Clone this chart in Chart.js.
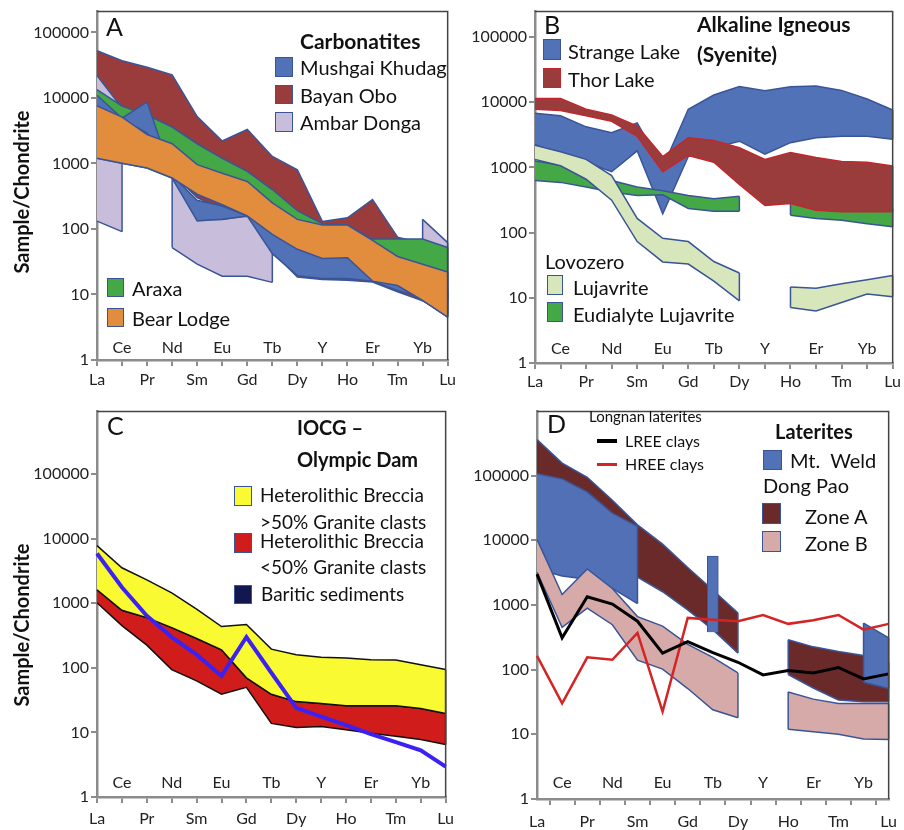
<!DOCTYPE html>
<html>
<head>
<meta charset="utf-8">
<script src="https://cdn.jsdelivr.net/npm/chart.js@4.4.1/dist/chart.umd.min.js"></script>
<style>
  body { margin: 0; background: #fff; width: 904px; height: 830px; position: relative; overflow: hidden; font-family: Lato, sans-serif; color: #111; }
  canvas { position: absolute; }
  .t { position: absolute; white-space: pre; line-height: 1; transform: translateY(-50%); }
  .b { font-weight: bold; }
  .sw { position: absolute; box-sizing: border-box; border: 1.5px solid #3a5597; }
  .ytitle { position: absolute; font-weight: bold; font-size: 20px; white-space: nowrap; transform: translate(-50%, -50%) rotate(-90deg); }
</style>
</head>
<body>
<canvas id="chartA" width="460" height="400" style="left:0;top:0"></canvas>
<canvas id="chartB" width="444" height="400" style="left:460px;top:0"></canvas>
<canvas id="chartC" width="460" height="430" style="left:0;top:400px"></canvas>
<canvas id="chartD" width="444" height="430" style="left:460px;top:400px"></canvas>

<!-- A -->
<div class="ytitle" style="left:21px;top:192px">Sample/Chondrite</div>
<div class="t" style="left:106px;top:26px;font-size:25px">A</div>
<div class="t b" style="left:300px;top:40px;font-size:21px">Carbonatites</div>
<div class="sw" style="left:275px;top:57px;width:18px;height:20px;background:#5272b8"></div>
<div class="t" style="left:300px;top:67px;font-size:20px">Mushgai Khudag</div>
<div class="sw" style="left:275px;top:85px;width:18px;height:19px;background:#9b3c3c"></div>
<div class="t" style="left:300px;top:95px;font-size:20px">Bayan Obo</div>
<div class="sw" style="left:275px;top:112px;width:18px;height:20px;background:#c8bedb"></div>
<div class="t" style="left:300px;top:122px;font-size:20px">Ambar Donga</div>
<div class="sw" style="left:107px;top:278px;width:17px;height:19px;background:#45a846"></div>
<div class="t" style="left:132px;top:288px;font-size:20px">Araxa</div>
<div class="sw" style="left:107px;top:308px;width:17px;height:19px;background:#e28d3e"></div>
<div class="t" style="left:132px;top:318px;font-size:20px">Bear Lodge</div>

<!-- B -->
<div class="t" style="left:544px;top:24px;font-size:25px">B</div>
<div class="t b" style="left:697px;top:23px;font-size:21px">Alkaline Igneous</div>
<div class="t b" style="left:697px;top:53px;font-size:21px">(Syenite)</div>
<div class="sw" style="left:543px;top:39px;width:18px;height:21px;background:#5272b8"></div>
<div class="t" style="left:568px;top:51px;font-size:20px">Strange Lake</div>
<div class="sw" style="left:543px;top:68px;width:18px;height:20px;background:#9b3c3c;border-color:#c0282d"></div>
<div class="t" style="left:568px;top:79px;font-size:20px">Thor Lake</div>
<div class="t" style="left:545px;top:261px;font-size:20px">Lovozero</div>
<div class="sw" style="left:547px;top:275px;width:16px;height:20px;background:#d8e6bc"></div>
<div class="t" style="left:573px;top:287px;font-size:20px">Lujavrite</div>
<div class="sw" style="left:547px;top:302px;width:16px;height:20px;background:#45a846"></div>
<div class="t" style="left:573px;top:314px;font-size:20px">Eudialyte Lujavrite</div>

<!-- C -->
<div class="ytitle" style="left:21px;top:625px">Sample/Chondrite</div>
<div class="t" style="left:107px;top:425px;font-size:25px">C</div>
<div class="t b" style="left:297px;top:427px;font-size:20px">IOCG –</div>
<div class="t b" style="left:297px;top:459px;font-size:20px">Olympic Dam</div>
<div class="sw" style="left:234px;top:486px;width:18px;height:20px;background:#fafa32"></div>
<div class="t" style="left:260px;top:494px;font-size:19px">Heterolithic Breccia</div>
<div class="t" style="left:260px;top:521px;font-size:19px">&gt;50% Granite clasts</div>
<div class="sw" style="left:234px;top:533px;width:18px;height:20px;background:#d11c1c"></div>
<div class="t" style="left:260px;top:540px;font-size:19px">Heterolithic Breccia</div>
<div class="t" style="left:260px;top:566px;font-size:19px">&lt;50% Granite clasts</div>
<div class="sw" style="left:234px;top:585px;width:18px;height:19px;background:#12184f"></div>
<div class="t" style="left:261px;top:593px;font-size:19px">Baritic sediments</div>

<!-- D -->
<div class="t" style="left:547px;top:423px;font-size:25px">D</div>
<div class="t" style="left:589px;top:416px;font-size:15px">Longnan laterites</div>
<div style="position:absolute;left:597px;top:439px;width:20px;height:4px;background:#000"></div>
<div class="t" style="left:625px;top:441px;font-size:16px">LREE clays</div>
<div style="position:absolute;left:597px;top:463px;width:20px;height:3px;background:#d42525"></div>
<div class="t" style="left:625px;top:464px;font-size:16px">HREE clays</div>
<div class="t b" style="left:775px;top:431px;font-size:20px">Laterites</div>
<div class="sw" style="left:763px;top:450px;width:19px;height:20px;background:#5272b8"></div>
<div class="t" style="left:790px;top:460px;font-size:20px">Mt.  Weld</div>
<div class="t" style="left:763px;top:485px;font-size:20px">Dong Pao</div>
<div class="sw" style="left:762px;top:503px;width:19px;height:21px;background:#6b2a2a"></div>
<div class="t" style="left:805px;top:516px;font-size:20px">Zone A</div>
<div class="sw" style="left:762px;top:531px;width:19px;height:21px;background:#d6aaa8"></div>
<div class="t" style="left:805px;top:543px;font-size:20px">Zone B</div>

<script>
(function() {
    "use strict"

    // REE order with Y placed between Dy and Ho
    const elements = ['La', 'Ce', 'Pr', 'Nd', 'Sm', 'Eu', 'Gd', 'Tb', 'Dy', 'Y', 'Ho', 'Er', 'Tm', 'Yb', 'Lu']
    const yTickValues = [1, 10, 100, 1000, 10000, 100000]

    // A - Carbonatites
    const bayanOboHigh = [52500, 37000, 29500, 22500, 5200, 2200, 3300, 1280, 800, 130, 148, 280, 75, 60, 40]
    const bayanOboLow = [1500, 1200, 1000, 700, 300, 200, 160, 45, 18.5, 17, 16.5, 15.5, 11, 8, 5]
    const ambarDongaHigh = [22000, 7000, null, 600, 140, 140, 160, 60, null, null, null, null, null, 140, 62]
    const ambarDongaLow = [132, 91, null, 52, 29, 19, 19, 15.3, null, null, null, null, null, 60, 40]
    const araxaHigh = [13400, 7500, 5500, 3600, 2000, 1200, 760, 400, 190, 120, 115, 70, 70, 70, 52]
    const araxaLow = [1200, 1010, 850, 600, 340, 235, 158, 83, 49, 35.5, 36.5, 16, 13.7, 8.1, 4.5]
    const mushgaiHigh = [11000, 4900, 8700, 650, 275, 224, 158, 100, 60, 45, 45, 30, 20, 15, 12]
    const mushgaiLow = [6000, 4800, 2900, 600, 133, 141, 157, 42, 19.4, 17.5, 17.5, 16, 11.5, 9, 8]
    const bearLodgeHigh = [7600, 5100, 2760, 2000, 960, 710, 530, 250, 140, 115, 115, 67, 38, 29, 22]
    const bearLodgeLow = [1200, 1010, 850, 600, 340, 235, 158, 83, 49, 35.5, 36.5, 16, 13.7, 8.1, 4.5]

    // B - Alkaline igneous
    const strangeLakeHigh = [6800, 6200, 4200, 3400, 4800, 1000, 7800, 12900, 17500, 15000, 17300, 17700, 15200, 11200, 7600]
    const strangeLakeLow = [2250, 1600, 1200, 860, 1800, 195, 1470, 2000, 2530, 1600, 2400, 2850, 3000, 3000, 2700]
    const eudialyteHigh = [1260, 1080, 820, 630, 500, 440, 370, 330, 360, null, 290, 230, 220, 220, 230]
    const eudialyteLow = [630, 590, 500, 420, 370, 380, 235, 213, 213, null, 185, 165, 155, 137, 123]
    const lujavriteHigh = [2180, 1740, 1330, 750, 165, 82, 73, 36, 24, null, 14.7, 14, 16.5, 19, 22]
    const lujavriteLow = [1330, 1060, 660, 315, 73, 35.5, 33, 18, 9, null, 7.1, 6.3, 8.5, 11.4, 10.4]
    const thorLakeHigh = [11400, 11400, 7800, 6400, 4300, 1470, 2850, 2600, 2000, 1330, 1700, 1420, 1230, 1200, 1050]
    const thorLakeLow = [7800, 7500, 6200, 5100, 3000, 860, 1530, 1200, 550, 260, 280, 220, 210, 210, 210]

    // C - IOCG Olympic Dam
    const brecciaHighTop = [7800, 3550, 2300, 1450, 810, 436, 470, 195, 160, 146, 142, 134, 132, 112, 94]
    const brecciaHighBottom = [1620, 780, 600, 420, 285, 190, 70, 39, 30, 28, 26, 26, 26, 23.4, 19.6]
    const brecciaLowTop = [1620, 780, 600, 420, 285, 190, 70, 39, 30, 28, 26, 26, 26, 23.4, 19.6]
    const brecciaLowBottom = [1020, 450, 225, 94, 63, 39, 50, 13.8, 11.9, 12.3, 11, 9.7, 8.7, 7.8, 6.5]
    const bariticSediments = [5900, 1770, 640, 300, 160, 75, 300, 84, 24, 17.5, 13, 9.4, 7.1, 5.3, 2.95]

    // D - Laterites
    const zoneAHigh = [360000, 156000, 94000, 41500, 17300, 8700, 3800, 1700, 750, null, 290, 225, 190, 165, 130]
    const zoneALow = [20000, 15000, 10000, 5000, 2700, 1600, 840, 415, 180, null, 84, 52, 34, 32, 32]
    const mtWeldHigh = [107000, 89000, 56000, 26300, 16400, null, null, null, null, null, null, null, null, 525, 310]
    const mtWeldLow = [3600, 2800, 2500, 1800, 1050, null, null, null, null, null, null, null, null, 64, 51]
    const mtWeldBar = [null, null, null, null, null, null, null, [380, 5700], null, null, null, null, null, null, null]
    const zoneBHigh = [10300, 1450, 3600, 1800, 660, 470, 245, 155, 89, null, 45, 35, 30, 30, 30]
    const zoneBLow = [3200, 450, 890, 495, 140, 102, 51, 24, 18, null, 12, 11, 10, 8.5, 8.3]
    const lreeClays = [3000, 310, 1340, 1030, 560, 180, 270, 183, 130, 83, 97, 89, 108, 72, 86]
    const hreeClays = [163, 30, 155, 142, 370, 22.5, 630, 590, 560, 700, 510, 580, 700, 415, 510]

    const EDGE = '#3a5597'

    // bands listed back to front; each band = lower line + upper line filled down to it
    const bandSets = function(list) {
        const sets = []
        const n = list.length
        list.forEach((b, k) => {
            const lowIdx = sets.length
            sets.push({ label: b.label + ' low', data: b.low, borderColor: b.line || EDGE, borderWidth: 1.5, fill: false, order: 2 * (n - k) + 10 })
            sets.push({ label: b.label, data: b.high, borderColor: b.line || EDGE, backgroundColor: b.color, borderWidth: 1.5, fill: { target: lowIdx }, order: 2 * (n - k) + 11 })
        })
        return sets
    }

    // closes each band piece with a vertical edge where it starts or stops inside the plot
    const bandEdges = {
        id: 'bandEdges',
        afterDatasetDraw: (chart, args) => {
            const ds = chart.data.datasets[args.index]
            if (!ds.fill || typeof ds.fill !== 'object') return
            const low = chart.data.datasets[ds.fill.target].data
            const { ctx, scales } = chart
            const last = ds.data.length - 1
            ctx.save()
            ctx.strokeStyle = ds.borderColor
            ctx.lineWidth = 1.5
            ds.data.forEach((v, i) => {
                if (v == null || low[i] == null || i === 0) return
                const isEnd = ds.data[i - 1] == null || i === last || ds.data[i + 1] == null
                if (!isEnd) return
                const px = scales.x.getPixelForValue(i)
                ctx.beginPath()
                ctx.moveTo(px, scales.y.getPixelForValue(v))
                ctx.lineTo(px, scales.y.getPixelForValue(low[i]))
                ctx.stroke()
            })
            ctx.restore()
        }
    }

    const innerLabels = {
        id: 'innerLabels',
        afterDraw: (chart, args, opts) => {
            const { ctx, chartArea, scales } = chart
            ctx.save()
            ctx.font = '16px Lato'
            ctx.fillStyle = '#222'
            ctx.textAlign = 'center'
            ctx.textBaseline = 'middle'
            elements.forEach((el, i) => {
                if (i % 2) ctx.fillText(el, scales.x.getPixelForValue(i), chartArea.bottom - opts.lift)
            })
            ctx.restore()
        }
    }

    const frame = {
        id: 'frame',
        afterDraw: chart => {
            const { ctx, chartArea: a } = chart
            ctx.save()
            ctx.strokeStyle = '#444'
            ctx.lineWidth = 1.5
            ctx.beginPath()
            ctx.moveTo(a.left, a.top)
            ctx.lineTo(a.right, a.top)
            ctx.lineTo(a.right, a.bottom)
            ctx.stroke()
            ctx.restore()
        }
    }

    const makeChart = function(id, p, datasets) {
        const axisGrid = { display: true, drawOnChartArea: false, drawTicks: true, tickLength: 6, color: '#8c8c8c', lineWidth: 2 }
        const axisBorder = { color: '#8c8c8c', width: 2.5 }
        return new Chart(document.getElementById(id), {
            type: 'line',
            data: { labels: elements, datasets: datasets },
            options: {
                responsive: false,
                animation: false,
                devicePixelRatio: 1,
                layout: { padding: { top: p.area.t, right: p.w - p.area.r, left: 0, bottom: 0 } },
                elements: { point: { radius: 0, hitRadius: 0, hoverRadius: 0 }, line: { tension: 0 } },
                plugins: {
                    legend: { display: false },
                    tooltip: { enabled: false },
                    innerLabels: { lift: p.lift }
                },
                scales: {
                    x: {
                        type: 'category',
                        offset: false,
                        grid: axisGrid,
                        border: axisBorder,
                        ticks: {
                            autoSkip: false, maxRotation: 0, padding: p.xPad, color: '#222',
                            font: { family: 'Lato', size: 16 },
                            callback: (v, i) => i % 2 === 0 ? elements[i] : ''
                        },
                        afterFit: s => { s.height = p.h - p.area.b }
                    },
                    y: {
                        type: 'logarithmic',
                        min: 1,
                        max: p.max,
                        grid: axisGrid,
                        border: axisBorder,
                        ticks: { padding: 2, color: '#222', font: { family: 'Lato', size: 16 }, callback: v => String(v) },
                        afterBuildTicks: s => { s.ticks = yTickValues.filter(v => v <= s.max).map(v => ({ value: v })) },
                        afterFit: s => { s.width = p.area.l }
                    }
                }
            },
            plugins: [bandEdges, innerLabels, frame]
        })
    }

    makeChart('chartA', { w: 460, h: 400, area: { l: 97, r: 457, t: 9, b: 360 }, max: 208000, xPad: 4, lift: 12 }, bandSets([
        { label: 'Bayan Obo', high: bayanOboHigh, low: bayanOboLow, color: '#9b3c3c' },
        { label: 'Ambar Donga', high: ambarDongaHigh, low: ambarDongaLow, color: '#c8bedb' },
        { label: 'Araxa', high: araxaHigh, low: araxaLow, color: '#45a846' },
        { label: 'Mushgai Khudag', high: mushgaiHigh, low: mushgaiLow, color: '#5272b8' },
        { label: 'Bear Lodge', high: bearLodgeHigh, low: bearLodgeLow, color: '#e28d3e' }
    ]))

    makeChart('chartB', { w: 444, h: 400, area: { l: 75, r: 435, t: 7, b: 363 }, max: 246000, xPad: 3, lift: 14 }, bandSets([
        { label: 'Strange Lake', high: strangeLakeHigh, low: strangeLakeLow, color: '#5272b8' },
        { label: 'Eudialyte Lujavrite', high: eudialyteHigh, low: eudialyteLow, color: '#45a846' },
        { label: 'Lujavrite', high: lujavriteHigh, low: lujavriteLow, color: '#d8e6bc' },
        { label: 'Thor Lake', high: thorLakeHigh, low: thorLakeLow, color: '#9b3c3c', line: '#c0282d' }
    ]))

    const setsC = bandSets([
        { label: 'Breccia >50%', high: brecciaHighTop, low: brecciaHighBottom, color: '#fafa32', line: '#111' },
        { label: 'Breccia <50%', high: brecciaLowTop, low: brecciaLowBottom, color: '#d11c1c', line: '#111' }
    ])
    // yellow sits above red in the drawing
    setsC.forEach(s => { s.order = s.order < 14 ? s.order + 4 : s.order - 4 })
    setsC.push({ label: 'Baritic sediments', data: bariticSediments, borderColor: '#3b22f2', borderWidth: 4, fill: false, order: 1 })
    makeChart('chartC', { w: 460, h: 430, area: { l: 97, r: 457, t: 3, b: 397 }, max: 930000, xPad: 6, lift: 14 }, setsC)

    const setsD = bandSets([
        { label: 'Zone A', high: zoneAHigh, low: zoneALow, color: '#6b2a2a' },
        { label: 'Mt. Weld', high: mtWeldHigh, low: mtWeldLow, color: '#5170b6' },
        { label: 'Zone B', high: zoneBHigh, low: zoneBLow, color: '#d6aaa8' }
    ])
    setsD.push({ type: 'bar', label: 'Mt. Weld Tb', data: mtWeldBar, backgroundColor: '#5170b6', borderColor: EDGE, borderWidth: 1, barThickness: 11, order: 13.5 })
    setsD.push({ label: 'HREE clays', data: hreeClays, borderColor: '#d42525', borderWidth: 2.5, fill: false, order: 2 })
    setsD.push({ label: 'LREE clays', data: lreeClays, borderColor: '#000', borderWidth: 3, fill: false, order: 1 })
    makeChart('chartD', { w: 444, h: 430, area: { l: 77, r: 436, t: 5, b: 399 }, max: 975000, xPad: 7, lift: 16 }, setsD)
})()
</script>
</body>
</html>
